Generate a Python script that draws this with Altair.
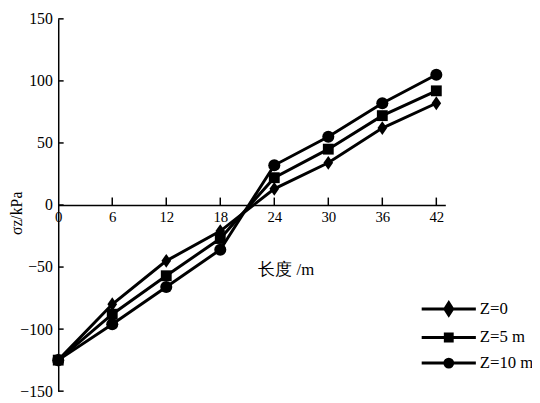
import altair as alt
import pandas as pd

# ---- data ----
lengths = [0, 6, 12, 18, 24, 30, 36, 42]
z0 = [-125, -80, -45, -21, 13, 34, 62, 82]
z5 = [-125, -88, -57, -27, 22, 45, 72, 92]
z10 = [-125, -96, -66, -36, 32, 55, 82, 105]
series_names = ["Z=0", "Z=5 m", "Z=10 m"]
x_ticks = [0, 6, 12, 18, 24, 30, 36, 42]
y_ticks = [-150, -100, -50, 0, 50, 100, 150]

rows = []
for name, vals in zip(series_names, [z0, z5, z10]):
    for x, v in zip(lengths, vals):
        rows.append({"len": x, "val": v, "series": name})
df = pd.DataFrame(rows)

SERIF = "Liberation Serif, DejaVu Serif, serif"
W, H = 393, 378

xscale = alt.Scale(domain=[0, 43], nice=False, zero=False)
yscale = alt.Scale(domain=[-150, 150], nice=False)

x_axis = alt.Axis(
    values=x_ticks, orient="bottom", offset=-H / 2, ticks=False, tickSize=0,
    labelPadding=5, domainColor="black", domainWidth=1.5, labelFont=SERIF,
    labelFontSize=15, labelColor="black", labelFlush=False, grid=False,
    title="长度 /m", titleFont=SERIF, titleFontSize=17, titleFontWeight="normal",
    titleColor="black", titleX=231, titleY=66, titleBaseline="middle", titleAlign="center",
)
y_axis = alt.Axis(
    values=y_ticks, ticks=False, tickSize=0, labelPadding=6, domainColor="black",
    domainWidth=1.5, labelFont=SERIF, labelFontSize=16, labelColor="black", grid=False,
    title="σz/kPa", titleFont=SERIF, titleFontSize=16, titleFontWeight="normal",
    titleColor="black", titleX=-42, titleY=197, titleAngle=-90,
    titleBaseline="middle", titleAlign="center",
)

lines = alt.Chart(df).mark_line(color="black", strokeWidth=3).encode(
    x=alt.X("len:Q", scale=xscale, axis=x_axis),
    y=alt.Y("val:Q", scale=yscale, axis=y_axis),
    detail="series:N",
)

marker_shapes = [
    "M0,-1.15L0.8,0L0,1.15L-0.8,0Z",
    "M-0.9,-0.9H0.9V0.9H-0.9Z",
    "circle",
]
points = alt.Chart(df).mark_point(filled=True, color="black", opacity=1, size=150).encode(
    x=alt.X("len:Q", scale=xscale),
    y=alt.Y("val:Q", scale=yscale),
    shape=alt.Shape("series:N", scale=alt.Scale(domain=series_names, range=marker_shapes), legend=None),
)

# legend symbols: a line with a solid marker (concentric sub-paths so the stroke fills the marker)
legend_shapes = [
    "M-2.75,0H2.75M0,-0.62L0.4,0L0,0.62L-0.4,0ZM0,-0.3L0.2,0L0,0.3L-0.2,0ZM0,-0.1V0.1",
    "M-2.75,0H2.75M-0.35,-0.35H0.35V0.35H-0.35ZM-0.15,-0.15H0.15V0.15H-0.15Z",
    "M-2.75,0H2.75M-0.4,0A0.4,0.4 0 1,0 0.4,0A0.4,0.4 0 1,0 -0.4,0"
    "M-0.2,0A0.2,0.2 0 1,0 0.2,0A0.2,0.2 0 1,0 -0.2,0M-0.05,0H0.05",
]
leg = alt.Legend(
    title=None, orient="none", legendX=385, legendY=283,
    symbolSize=400, symbolOpacity=1, symbolFillColor="black",
    symbolStrokeColor="black", symbolStrokeWidth=3,
    labelFont=SERIF, labelFontSize=17, labelColor="black",
    labelOffset=20, rowPadding=5,
)
legend_layer = alt.Chart(df).mark_point(filled=False, opacity=0, size=400).encode(
    x=alt.X("len:Q", scale=xscale),
    y=alt.Y("val:Q", scale=yscale),
    shape=alt.Shape("series:N", scale=alt.Scale(domain=series_names, range=legend_shapes), legend=leg),
    color=alt.Color("series:N", scale=alt.Scale(domain=series_names, range=["black", "black", "black"]), legend=None),
)

tick_x_df = pd.DataFrame({"t": x_ticks[1:]})
tick_y_df = pd.DataFrame({"t": y_ticks})
xticks = alt.Chart(tick_x_df).mark_rule(color="black", strokeWidth=1.5).encode(
    x=alt.X("t:Q", scale=xscale), y=alt.datum(0), y2=alt.datum(6)
)
yticks = alt.Chart(tick_y_df).mark_rule(color="black", strokeWidth=1.5).encode(
    y=alt.Y("t:Q", scale=yscale), x=alt.datum(0), x2=alt.datum(0.6)
)

chart = (
    alt.layer(lines, points, legend_layer, xticks, yticks)
    .resolve_scale(shape="independent")
    .properties(
        width=W, height=H,
        autosize=alt.AutoSizeParams(type="none"),
        padding={"left": 51, "top": 8, "right": 88, "bottom": 9},
        background="white",
    )
    .configure(font=SERIF)
    .configure_view(stroke=None)
)

chart.save("out.html", embed_options={"renderer": "svg", "actions": False})
